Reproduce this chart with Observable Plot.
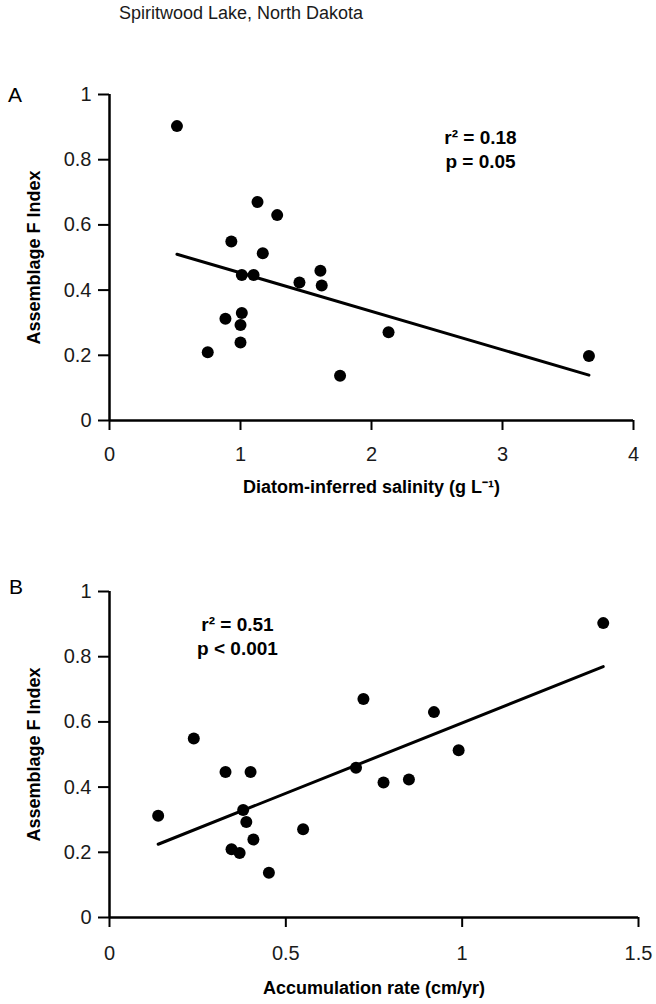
<!DOCTYPE html>
<html>
<head>
<meta charset="utf-8">
<script src="https://cdn.jsdelivr.net/npm/d3@7"></script>
<script src="https://cdn.jsdelivr.net/npm/@observablehq/plot@0.6"></script>
<style>
  html, body { margin: 0; padding: 0; background: #fff; }
  #root { position: relative; width: 656px; height: 1004px; overflow: hidden;
          font-family: "Liberation Sans", Arial, sans-serif; color: #000; }
  .abs { position: absolute; white-space: nowrap; }
  #title { left: 119px; top: 1px; font-size: 18px; line-height: 24px; color: #1a1a1a; }
  .panel { font-size: 21px; line-height: 22px; }
</style>
</head>
<body>
<div id="root">
  <div id="title" class="abs">Spiritwood Lake, North Dakota</div>
  <div class="abs panel" style="left:8px; top:84px;">A</div>
  <div class="abs panel" style="left:9px; top:576px;">B</div>
</div>
<script>
// Assemblage F Index per sample (shared by both panels)
const fIndex = [0.903, 0.670, 0.630, 0.549, 0.513, 0.446, 0.446, 0.423, 0.459, 0.414, 0.330, 0.312, 0.293, 0.239, 0.209, 0.137, 0.271, 0.198];
// Diatom-inferred salinity (g/L) per sample
const salinity = [0.515, 1.13, 1.28, 0.93, 1.17, 1.01, 1.10, 1.45, 1.61, 1.62, 1.01, 0.885, 1.00, 1.00, 0.75, 1.76, 2.13, 3.66];
// Accumulation rate (cm/yr) per sample
const accumulation = [1.40, 0.72, 0.92, 0.239, 0.99, 0.329, 0.40, 0.849, 0.699, 0.777, 0.379, 0.138, 0.388, 0.408, 0.346, 0.452, 0.549, 0.369];

const yTicks = [0, 0.2, 0.4, 0.6, 0.8, 1];
const xTicksA = [0, 1, 2, 3, 4];
const xTicksB = [0, 0.5, 1, 1.5];

const statsA = ["r² = 0.18", "p = 0.05"];
const statsB = ["r² = 0.51", "p < 0.001"];

const yLabel = "Assemblage F Index";
const xLabelA = "Diatom-inferred salinity (g L⁻¹)";
const xLabelB = "Accumulation rate (cm/yr)";

const dataA = fIndex.map((f, i) => ({x: salinity[i], f}));
const dataB = fIndex.map((f, i) => ({x: accumulation[i], f}));

const font = "'Liberation Sans', Arial, sans-serif";

function panel({data, xDomain, xTicks, stats, xLabel, height, marginTop, marginBottom, marginRight, statsDx, statsDy, xLabelDy, tickPad}) {
  const svg = Plot.plot({
    width: 656,
    height,
    marginTop,
    marginBottom,
    marginLeft: 109,
    marginRight,
    style: {fontFamily: font, fontSize: "20px", color: "#000", background: "transparent", overflow: "visible"},
    x: {domain: xDomain},
    y: {domain: [0, 1]},
    marks: [
      Plot.axisY({ticks: yTicks, tickFormat: d => String(d), tickSize: 11, tickPadding: 7, strokeWidth: 2, label: null, fill: "#1a1a1a"}),
      Plot.axisX({ticks: xTicks, tickFormat: d => String(d), tickSize: 10, tickPadding: tickPad, strokeWidth: 2, label: null, fill: "#1a1a1a"}),
      Plot.ruleX([0], {strokeWidth: 2.5}),
      Plot.ruleY([0], {strokeWidth: 2.5}),
      Plot.linearRegressionY(data, {x: "x", y: "f", ci: 0, stroke: "#000", strokeWidth: 3}),
      Plot.dot(data, {x: "x", y: "f", r: 6, fill: "#000", stroke: "none"}),
      Plot.text([stats.join("\n")], {text: d => d, frameAnchor: "top-left", textAnchor: "middle", lineAnchor: "middle", dx: statsDx, dy: statsDy, lineHeight: 1.25, fontWeight: "bold", fontSize: 19}),
      Plot.text([yLabel], {text: d => d, frameAnchor: "left", textAnchor: "middle", lineAnchor: "middle", rotate: -90, dx: -75, fontWeight: "bold", fontSize: 18}),
      Plot.text([xLabel], {text: d => d, frameAnchor: "bottom", textAnchor: "middle", lineAnchor: "middle", dy: xLabelDy, fontWeight: "bold", fontSize: 18})
    ]
  });
  // enlarge axis tick labels
  d3.select(svg).selectAll('g[aria-label$="tick label"]').attr("font-size", 20).style("font-size", "20px");
  return svg;
}

const root = document.getElementById("root");

const svgA = panel({data: dataA, xDomain: [0, 4], xTicks: xTicksA, stats: statsA, xLabel: xLabelA,
  height: 470, marginTop: 54, marginBottom: 90, marginRight: 23, statsDx: 371, statsDy: 54, xLabelDy: 67, tickPad: 16});
svgA.style.position = "absolute"; svgA.style.left = "0px"; svgA.style.top = "40px";
root.appendChild(svgA);

const svgB = panel({data: dataB, xDomain: [0, 1.5], xTicks: xTicksB, stats: statsB, xLabel: xLabelB,
  height: 494, marginTop: 81, marginBottom: 87, marginRight: 18, statsDx: 128, statsDy: 44, xLabelDy: 71, tickPad: 18});
svgB.style.position = "absolute"; svgB.style.left = "0px"; svgB.style.top = "510px";
root.appendChild(svgB);
</script>
</body>
</html>
